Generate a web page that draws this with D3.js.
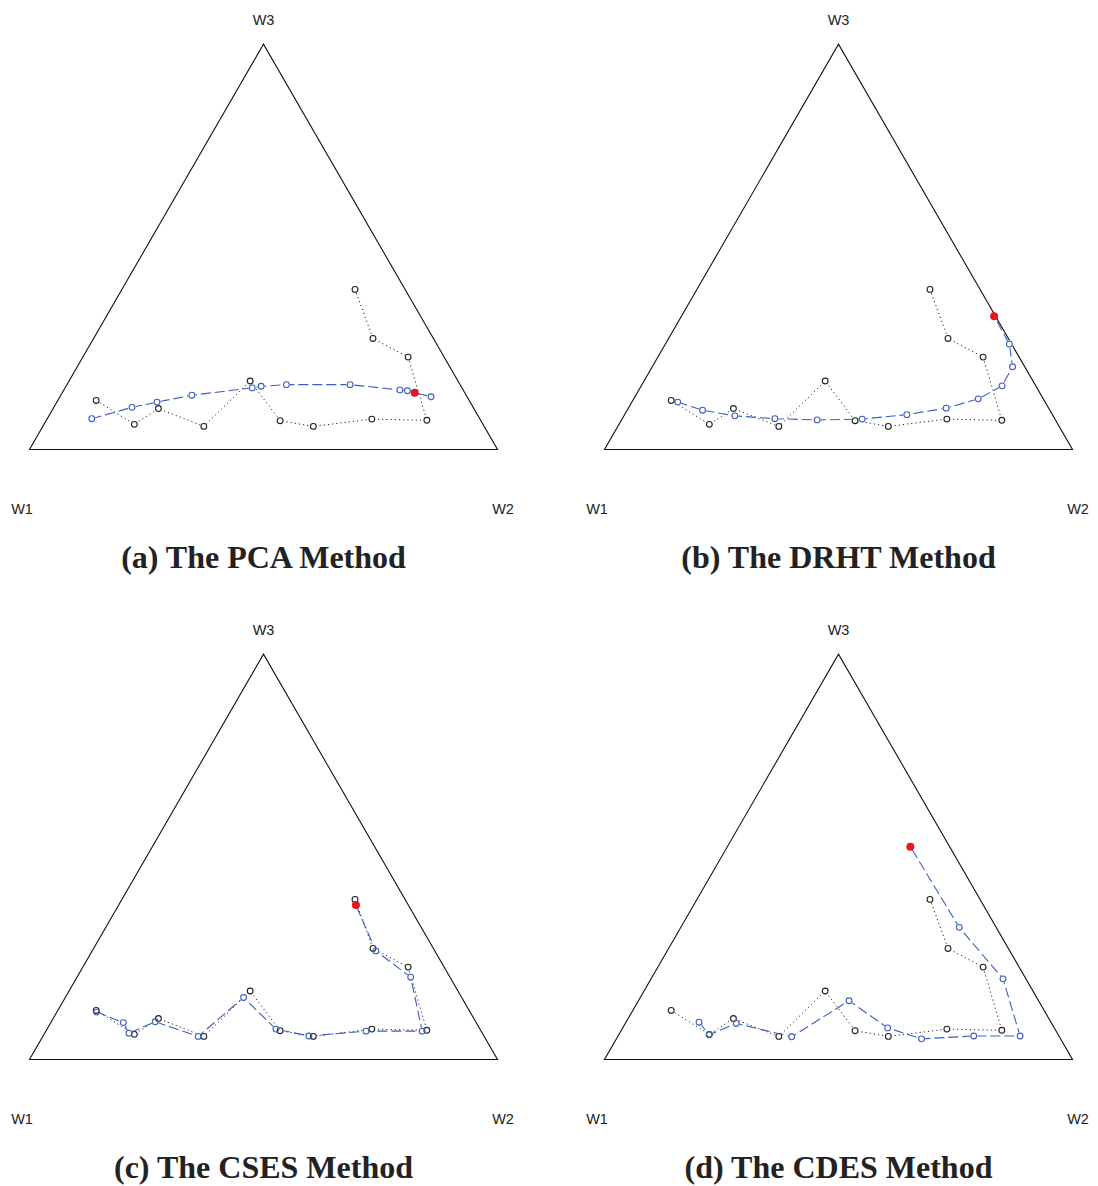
<!DOCTYPE html>
<html>
<head>
<meta charset="utf-8">
<script src="https://cdn.jsdelivr.net/npm/d3@7"></script>
<style>
  html, body { margin: 0; padding: 0; background: #fff; }
  svg { display: block; }
</style>
</head>
<body>
<svg id="chart" width="1098" height="1186"></svg>
<script>
// ---------- DATA (ternary weights [W1, W2, W3]) ----------
const vertexLabels = ["W1", "W2", "W3"];
const methodTitles = ["(a) The PCA Method", "(b) The DRHT Method", "(c) The CSES Method", "(d) The CDES Method"];

// observed weights (black, dotted), same in every panel
const observed = [
  [0.797, 0.082, 0.121],
  [0.745, 0.193, 0.062],
  [0.674, 0.225, 0.101],
  [0.599, 0.344, 0.057],
  [0.444, 0.387, 0.169],
  [0.429, 0.500, 0.071],
  [0.365, 0.578, 0.057],
  [0.231, 0.694, 0.075],
  [0.115, 0.813, 0.072],
  [0.077, 0.695, 0.228],
  [0.129, 0.597, 0.274],
  [0.107, 0.498, 0.395]
];

// fitted weights (blue, dashed) per method
const pcaFit = [
  [0.829, 0.095, 0.076],
  [0.729, 0.167, 0.104],
  [0.669, 0.214, 0.117],
  [0.586, 0.280, 0.134],
  [0.448, 0.400, 0.152],
  [0.427, 0.417, 0.156],
  [0.371, 0.469, 0.160],
  [0.235, 0.605, 0.160],
  [0.135, 0.718, 0.147],
  [0.120, 0.735, 0.145],
  [0.077, 0.793, 0.130]
];
const drhtFit = [
  [0.785, 0.098, 0.117],
  [0.742, 0.161, 0.097],
  [0.680, 0.237, 0.083],
  [0.598, 0.326, 0.076],
  [0.509, 0.418, 0.073],
  [0.412, 0.513, 0.075],
  [0.311, 0.603, 0.086],
  [0.219, 0.679, 0.102],
  [0.139, 0.736, 0.125],
  [0.072, 0.771, 0.157],
  [0.026, 0.770, 0.204],
  [0.005, 0.735, 0.260]
];
const csesFit = [
  [0.798, 0.085, 0.117],
  [0.754, 0.155, 0.091],
  [0.755, 0.180, 0.065],
  [0.685, 0.222, 0.093],
  [0.611, 0.332, 0.057],
  [0.466, 0.381, 0.153],
  [0.436, 0.489, 0.075],
  [0.374, 0.568, 0.058],
  [0.246, 0.684, 0.070],
  [0.126, 0.804, 0.070],
  [0.084, 0.713, 0.203],
  [0.126, 0.606, 0.268]
];
const cdesFit = [
  [0.752, 0.156, 0.092],
  [0.746, 0.193, 0.061],
  [0.674, 0.237, 0.089],
  [0.572, 0.372, 0.056],
  [0.405, 0.450, 0.145],
  [0.356, 0.566, 0.078],
  [0.297, 0.652, 0.051],
  [0.182, 0.760, 0.058],
  [0.083, 0.859, 0.058],
  [0.049, 0.752, 0.199],
  [0.079, 0.595, 0.326]
];
// forecast point (red) per method
const forecasts = [
  [0.107, 0.753, 0.140],
  [0.003, 0.668, 0.329],
  [0.112, 0.507, 0.381],
  [0.084, 0.391, 0.525]
];
const fits = [pcaFit, drhtFit, csesFit, cdesFit];

// ---------- LAYOUT ----------
const svg = d3.select("#chart");
const panelOffsets = [[0, 0], [575, 0], [0, 610], [575, 610]];
const side = 468;
const triH = side * Math.sqrt(3) / 2;
const baseLeft = 29.5, baseY = 449.5;

const blue = "#3b5fbf";
const red = "#e8141c";
const R = 2.9;

panelOffsets.forEach((off, i) => {
  const g = svg.append("g").attr("transform", `translate(${off[0]},${off[1]})`);
  // scales: horizontal position from (w2 + w3/2), vertical from w3
  const xs = d3.scaleLinear().domain([0, 1]).range([baseLeft, baseLeft + side]);
  const ys = d3.scaleLinear().domain([0, 1]).range([baseY, baseY - triH]);
  const px = d => xs(d[1] + d[2] / 2);
  const py = d => ys(d[2]);

  // triangle
  const verts = [[1, 0, 0], [0, 1, 0], [0, 0, 1]];
  g.append("path")
    .attr("d", d3.line().x(px).y(py)(verts) + "Z")
    .attr("fill", "none").attr("stroke", "#111").attr("stroke-width", 1.1);

  // vertex labels
  const labFont = "'Liberation Sans', Arial, sans-serif";
  g.append("text").attr("x", xs(0) - 7.5).attr("y", baseY + 64)
    .attr("text-anchor", "middle").attr("font-family", labFont).attr("font-size", 14.5)
    .attr("fill", "#222").text(vertexLabels[0]);
  g.append("text").attr("x", xs(1) + 5.5).attr("y", baseY + 64)
    .attr("text-anchor", "middle").attr("font-family", labFont).attr("font-size", 14.5)
    .attr("fill", "#222").text(vertexLabels[1]);
  g.append("text").attr("x", xs(0.5)).attr("y", baseY - triH - 19)
    .attr("text-anchor", "middle").attr("font-family", labFont).attr("font-size", 14.5)
    .attr("fill", "#222").text(vertexLabels[2]);

  // observed path (dotted)
  g.append("path").attr("d", d3.line().x(px).y(py)(observed))
    .attr("fill", "none").attr("stroke", "#222").attr("stroke-width", 1)
    .attr("stroke-dasharray", "1.2,3");

  // fitted path (dashed), ending at the forecast point
  const fitPath = fits[i].concat([forecasts[i]]);
  g.append("path").attr("d", d3.line().x(px).y(py)(fitPath))
    .attr("fill", "none").attr("stroke", blue).attr("stroke-width", 1.1)
    .attr("stroke-dasharray", "10,4");

  // white discs so lines stop at the circle edges
  g.selectAll("circle.mask").data(observed.concat(fits[i])).enter().append("circle")
    .attr("class", "mask").attr("cx", px).attr("cy", py).attr("r", R + 0.8)
    .attr("fill", "#fff");

  g.selectAll("circle.obs").data(observed).enter().append("circle")
    .attr("class", "obs").attr("cx", px).attr("cy", py).attr("r", R)
    .attr("fill", "none").attr("stroke", "#222").attr("stroke-width", 1.1);

  g.selectAll("circle.fit").data(fits[i]).enter().append("circle")
    .attr("class", "fit").attr("cx", px).attr("cy", py).attr("r", R)
    .attr("fill", "none").attr("stroke", blue).attr("stroke-width", 1.1);

  g.append("circle").attr("cx", px(forecasts[i])).attr("cy", py(forecasts[i]))
    .attr("r", 4).attr("fill", red);

  // title
  g.append("text").attr("x", xs(0.5)).attr("y", baseY + 118)
    .attr("text-anchor", "middle")
    .attr("font-family", "'Liberation Serif', 'Times New Roman', serif")
    .attr("font-weight", "bold").attr("font-size", 32).attr("fill", "#222")
    .text(methodTitles[i]);
});
</script>
</body>
</html>
